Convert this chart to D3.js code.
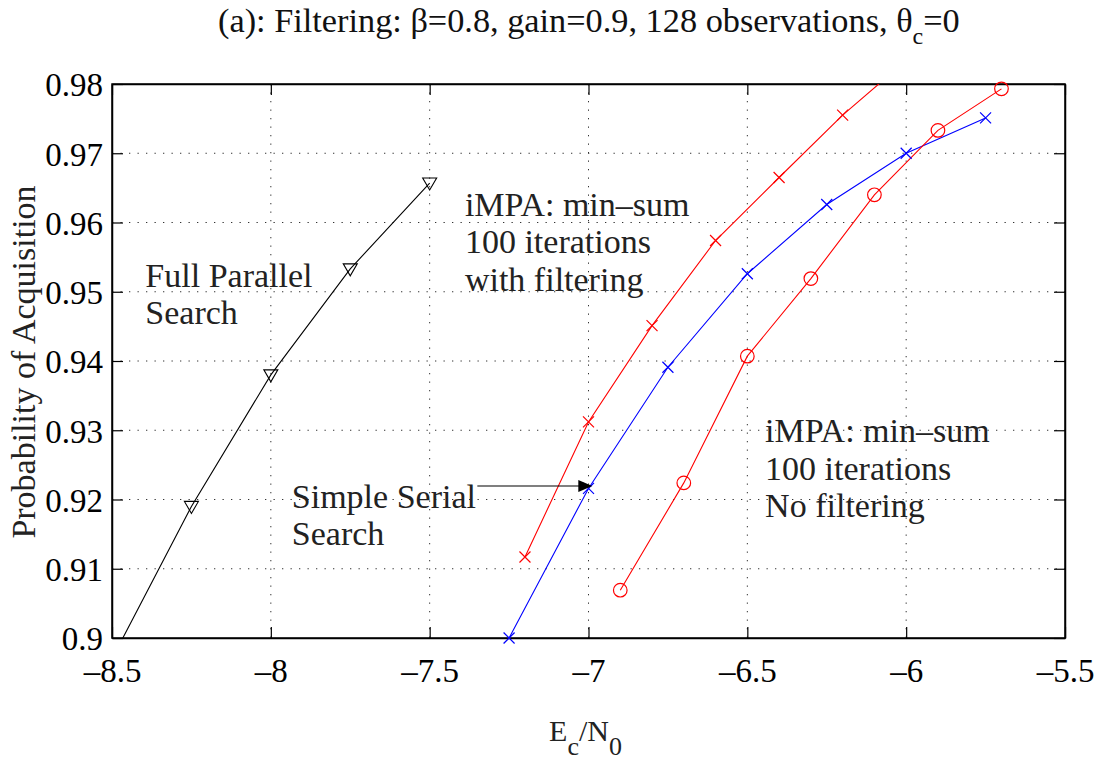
<!DOCTYPE html>
<html>
<head>
<meta charset="utf-8">
<script src="https://cdn.jsdelivr.net/npm/d3@7"></script>
<style>
  body { margin: 0; background: #fff; }
</style>
</head>
<body>
<div id="vis"></div>
<script>
// data
var parallelX = [-8.5, -8.25, -8.0, -7.75, -7.5];
var parallelY = [0.897, 0.919, 0.938, 0.9533, 0.9657];

var filteredX = [-7.2, -7.0, -6.8, -6.6, -6.4, -6.2, -6.0];
var filteredY = [0.9117, 0.9312, 0.9451, 0.9574, 0.9665, 0.9755, 0.9834];

var serialX = [-7.25, -7.0, -6.75, -6.5, -6.25, -6.0, -5.75];
var serialY = [0.900, 0.9216, 0.9391, 0.9526, 0.9626, 0.970, 0.9751];

var noFilterX = [-6.9, -6.7, -6.5, -6.3, -6.1, -5.9, -5.7];
var noFilterY = [0.9069, 0.9224, 0.9407, 0.9519, 0.964, 0.9733, 0.9793];

var xTicks = [-8.5, -8, -7.5, -7, -6.5, -6, -5.5];
var yTicks = [0.9, 0.91, 0.92, 0.93, 0.94, 0.95, 0.96, 0.97, 0.98];

var serif = "Liberation Serif";

var width = 1098, height = 762;
var margin = {left: 112, right: 33, top: 84, bottom: 124};
var plotW = width - margin.left - margin.right,
    plotH = height - margin.top - margin.bottom;

var x = d3.scaleLinear().domain([-8.5, -5.5]).range([0, plotW]);
var y = d3.scaleLinear().domain([0.9, 0.98]).range([plotH, 0]);

var svg = d3.select("#vis").append("svg")
    .attr("width", width)
    .attr("height", height)
    .attr("font-family", serif);

var g = svg.append("g")
    .attr("transform", "translate(" + [margin.left, margin.top] + ")");

svg.append("defs").append("clipPath").attr("id", "plotclip")
    .append("rect").attr("width", plotW).attr("height", plotH);

// dotted grid
g.append("g").selectAll("line.vgrid")
    .data(xTicks.slice(1, -1)).enter().append("line")
    .attr("x1", d => x(d)).attr("x2", d => x(d))
    .attr("y1", 0).attr("y2", plotH)
    .attr("stroke", "#333").attr("stroke-width", 1)
    .attr("stroke-dasharray", "1.3,7.2");
g.append("g").selectAll("line.hgrid")
    .data(yTicks.slice(1, -1)).enter().append("line")
    .attr("y1", d => y(d)).attr("y2", d => y(d))
    .attr("x1", 0).attr("x2", plotW)
    .attr("stroke", "#333").attr("stroke-width", 1)
    .attr("stroke-dasharray", "1.3,7.2");

// axes, ticks inside on all four sides
var tickFont = 33;
var bottomAxis = g.append("g").attr("transform", "translate(0," + plotH + ")")
    .call(d3.axisBottom(x).tickValues(xTicks).tickSizeInner(-11).tickSizeOuter(0)
        .tickFormat(d => (d < 0 ? "\u2013" : "") + Math.abs(d)));
bottomAxis.selectAll("text").attr("y", 21).attr("dy", "0.71em");

var leftAxis = g.append("g")
    .call(d3.axisLeft(y).tickValues(yTicks).tickSizeInner(-11).tickSizeOuter(0)
        .tickFormat(d => d3.format("")(+d.toFixed(2))));
leftAxis.selectAll("text").attr("x", -9).attr("dy", "0.36em");

g.append("g").call(d3.axisTop(x).tickValues(xTicks).tickSizeInner(-11).tickSizeOuter(0).tickFormat(""));
g.append("g").attr("transform", "translate(" + plotW + ",0)")
    .call(d3.axisRight(y).tickValues(yTicks).tickSizeInner(-11).tickSizeOuter(0).tickFormat(""));

g.selectAll("g").attr("font-family", serif).attr("font-size", tickFont);
g.selectAll(".tick text").attr("fill", "#000");
g.selectAll(".domain").attr("stroke", "#000").attr("stroke-width", 1.5);
g.selectAll(".tick line").attr("stroke", "#000").attr("stroke-width", 1.2);

g.append("rect").attr("width", plotW).attr("height", plotH)
    .attr("fill", "none").attr("stroke", "#000").attr("stroke-width", 1.5);

// series
var line = d3.line().x(d => x(d[0])).y(d => y(d[1]));
var plot = g.append("g").attr("clip-path", "url(#plotclip)");

function series(xs, ys, color, marker) {
    var pts = d3.zip(xs, ys);
    plot.append("path").datum(pts)
        .attr("d", line).attr("fill", "none")
        .attr("stroke", color).attr("stroke-width", 1.1);
    var inside = pts.filter(d => d[0] >= -8.5 && d[0] <= -5.5 && d[1] >= 0.9 && d[1] <= 0.98);
    var m = g.append("g").selectAll("g").data(inside).enter().append("g")
        .attr("transform", d => "translate(" + [x(d[0]), y(d[1])] + ")");
    if (marker == "circle") {
        m.append("circle").attr("r", 6.8).attr("fill", "none")
            .attr("stroke", color).attr("stroke-width", 1.2);
    } else if (marker == "cross") {
        m.append("path").attr("d", "M-5.5,-5.5L5.5,5.5M-5.5,5.5L5.5,-5.5")
            .attr("stroke", color).attr("stroke-width", 1.2);
    } else if (marker == "tri") {
        m.append("path").attr("d", "M-7,-5L7,-5L0,7Z").attr("fill", "none")
            .attr("stroke", color).attr("stroke-width", 1.1);
    }
}

series(parallelX, parallelY, "#000", "tri");
series(filteredX, filteredY, "#ff0000", "cross");
series(serialX, serialY, "#0000ff", "cross");
series(noFilterX, noFilterY, "#ff0000", "circle");

// annotations
var annColor = "#222";
function label(lines, px, py) {
    var t = g.append("text").attr("fill", annColor)
        .attr("font-family", serif).attr("font-size", 34);
    lines.forEach(function(s, i) {
        t.append("tspan").attr("x", x(px)).attr("y", y(py) + i * 37.5).text(s);
    });
}
label(["Full Parallel", "Search"], -8.395, 0.9507);
label(["iMPA: min\u2013sum", "100 iterations", "with filtering"], -7.389, 0.9610);
label(["iMPA: min\u2013sum", "100 iterations", "No filtering"], -6.444, 0.9283);
label(["Simple Serial", "Search"], -7.934, 0.9188);

// arrow pointing to the serial search curve
var ax0 = -7.35, ax1 = -6.988, ay = 0.92195;
g.append("line")
    .attr("x1", x(ax0)).attr("x2", x(ax1) - 10)
    .attr("y1", y(ay)).attr("y2", y(ay))
    .attr("stroke", "#000").attr("stroke-width", 1.2);
g.append("path")
    .attr("d", "M" + x(ax1) + "," + y(ay) + "l-14,-6l0,12z")
    .attr("fill", "#000");

// title
var title = svg.append("text").attr("x", 218).attr("y", 32)
    .attr("fill", "#111").attr("font-family", serif).attr("font-size", 34.3);
title.append("tspan").text("(a): Filtering: \u03B2=0.8, gain=0.9, 128 observations, \u03B8");
title.append("tspan").attr("dy", 12).attr("font-size", 24).text("c");
title.append("tspan").attr("dy", -12).text("=0");

// axis labels
var xl = svg.append("text")
    .attr("x", margin.left + plotW / 2 - 3).attr("y", 741)
    .attr("text-anchor", "middle").attr("fill", "#222")
    .attr("font-family", serif).attr("font-size", 30);
xl.append("tspan").text("E");
xl.append("tspan").attr("dy", 14).attr("font-size", 26).text("c");
xl.append("tspan").attr("dy", -14).text("/N");
xl.append("tspan").attr("dy", 14).attr("font-size", 26).text("0");

svg.append("text")
    .attr("transform", "translate(35,362) rotate(-90)")
    .attr("text-anchor", "middle").attr("fill", "#222")
    .attr("font-family", serif).attr("font-size", 34)
    .text("Probability of Acquisition");
</script>
</body>
</html>
